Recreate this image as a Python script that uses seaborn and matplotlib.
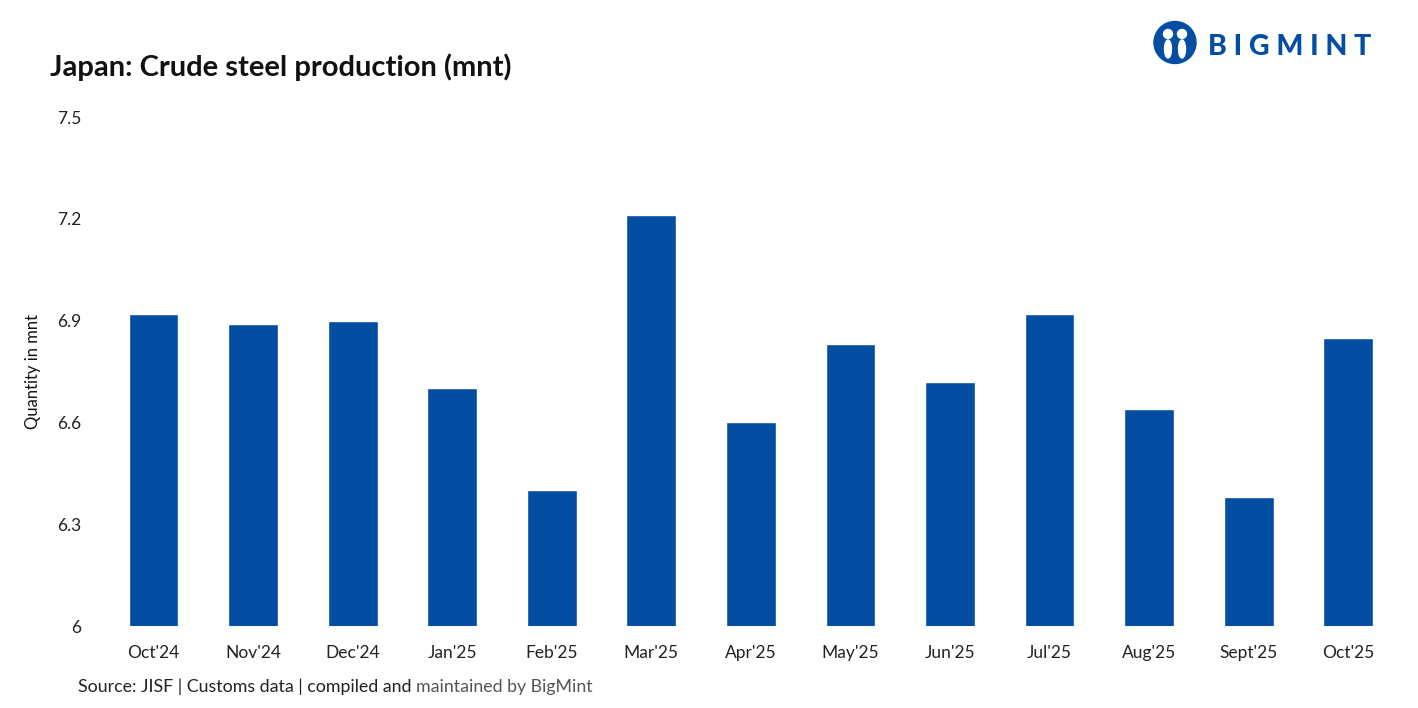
import pandas as pd
import matplotlib.pyplot as plt
import seaborn as sns
from matplotlib.patches import Circle, Ellipse

# Data
months = ["Oct'24", "Nov'24", "Dec'24", "Jan'25", "Feb'25", "Mar'25", "Apr'25",
          "May'25", "Jun'25", "Jul'25", "Aug'25", "Sept'25", "Oct'25"]
production = [6.92, 6.89, 6.90, 6.70, 6.40, 7.21, 6.60,
              6.83, 6.72, 6.92, 6.64, 6.38, 6.85]
y_ticks = [6, 6.3, 6.6, 6.9, 7.2, 7.5]
y_tick_labels = ['6', '6.3', '6.6', '6.9', '7.2', '7.5']

bar_color = '#034EA2'

sns.set_style('white')
plt.rcParams['font.family'] = ['Lato', 'DejaVu Sans']

df = pd.DataFrame({'month': months, 'value': production})

fig = plt.figure(figsize=(14.18, 7.08), dpi=100)
ax = fig.add_axes([0.0732, 0.1158, 0.9127, 0.7189])

sns.barplot(data=df, x='month', y='value', color=bar_color, width=0.5,
            saturation=1, ax=ax)

ax.set_ylim(6, 7.5)
ax.set_xlim(-0.5, len(months) - 0.5)
ax.set_yticks(y_ticks)
ax.set_yticklabels(y_tick_labels)
ax.tick_params(axis='both', length=0, labelsize=12.5, colors='#222222')
ax.tick_params(axis='x', pad=14)
ax.tick_params(axis='y', pad=16)
ax.set_xlabel('')
ax.set_ylabel('Quantity in mnt', fontsize=12, color='#111111', labelpad=12)
sns.despine(ax=ax, left=True, bottom=True)

# Title
fig.text(50 / 1418, 1 - 67 / 708, 'Japan: Crude steel production (mnt)',
         fontsize=21, fontweight='bold', color='#111111', va='center', ha='left')

# Source line, second part greyer and chained to the first
src = fig.text(78 / 1418, 1 - 687 / 708, 'Source: JISF | Customs data | compiled and ',
               fontsize=12.8, color='#222222', va='center', ha='left')
ax.annotate('maintained by BigMint', xy=(1, 0.5), xycoords=src,
            fontsize=12.8, color='#555555', va='center', ha='left',
            annotation_clip=False)

# Logo
logo_ax = fig.add_axes([1150 / 1418, 1 - 70 / 708, 50 / 1418, 50 / 708])
logo_ax.set_xlim(0, 1)
logo_ax.set_ylim(0, 1)
logo_ax.set_aspect('equal')
logo_ax.axis('off')
logo_ax.add_patch(Circle((0.5, 0.55), 0.42, color=bar_color))
logo_ax.add_patch(Circle((0.36, 0.72), 0.09, color='white'))
logo_ax.add_patch(Circle((0.64, 0.72), 0.09, color='white'))
logo_ax.add_patch(Ellipse((0.36, 0.42), 0.14, 0.36, color='white'))
logo_ax.add_patch(Ellipse((0.64, 0.42), 0.14, 0.36, color='white'))
logo_ax.add_patch(Ellipse((0.5, 0.35), 0.08, 0.3, color=bar_color))
fig.text(1208 / 1418, 1 - 47 / 708, 'B I G M I N T', fontsize=20.5,
         fontweight='black', color=bar_color, va='center', ha='left')

fig.savefig('out.png', dpi=100)
